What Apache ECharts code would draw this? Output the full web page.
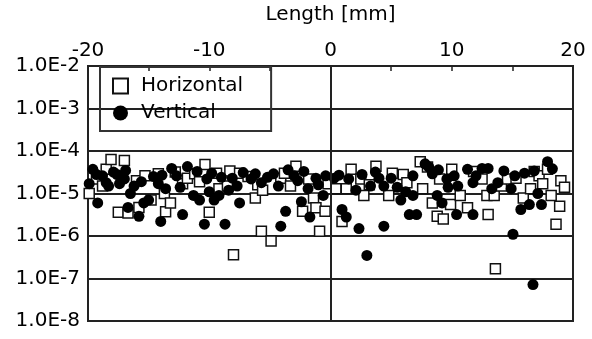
<!DOCTYPE html>
<html>
<head>
<meta charset="utf-8">
<script src="https://cdn.jsdelivr.net/npm/echarts@6/dist/echarts.min.js"></script>
<style>
  html, body { margin: 0; padding: 0; background: #fff; }
  #chart { width: 592px; height: 339px; }
</style>
</head>
<body>
<div id="chart"></div>
<script>
// [length mm, value]
const horizontal = [
  [-19.9, 1.0e-5], [-19.3, 2.2e-5], [-18.8, 1.5e-5], [-18.5, 3.7e-5], [-18.1, 6.3e-5], [-17.0, 6.0e-5],
  [-17.5, 3.6e-6], [-16.7, 3.5e-6], [-16.0, 2.0e-5], [-15.8, 4.7e-6], [-15.3, 2.6e-5], [-14.8, 7e-6],
  [-14.2, 2.9e-5], [-13.7, 1.0e-5], [-13.6, 3.7e-6], [-13.2, 6e-6], [-12.8, 3.2e-5], [-12.2, 1.7e-5],
  [-11.8, 2.3e-5], [-11.2, 2.9e-5], [-10.8, 1.9e-5], [-10.35, 4.8e-5], [-10.0, 3.6e-6], [-9.4, 3.0e-5],
  [-9.2, 1.3e-5], [-8.5, 1.5e-5], [-8.3, 3.4e-5], [-8.0, 3.6e-7], [-7.5, 3.0e-5], [-6.8, 2.5e-5],
  [-6.2, 7.8e-6], [-6.0, 1.6e-5], [-5.7, 1.3e-6], [-5.6, 1.2e-5], [-4.9, 7.6e-7], [-4.1, 2.3e-5],
  [-3.8, 3.0e-5], [-3.3, 1.5e-5], [-2.85, 4.4e-5], [-2.3, 3.8e-6], [-1.8, 2.2e-5], [-1.4, 7.8e-6],
  [-1.2, 4.6e-6], [-0.9, 1.3e-6], [-0.45, 3.8e-6], [-0.2, 1.7e-5], [0.45, 1.3e-5], [0.95, 2.2e-6],
  [1.3, 1.3e-5], [1.7, 3.7e-5], [2.5, 2.2e-5], [2.75, 9e-6], [3.2, 1.6e-5], [3.75, 4.4e-5],
  [4.8, 9e-6], [5.1, 3e-5], [5.65, 1.3e-5], [6.0, 2.8e-5], [6.3, 1.8e-5], [7.4, 5.6e-5],
  [7.6, 1.3e-5], [8.0, 4.2e-5], [8.4, 6e-6], [8.8, 2.9e-6], [9.0, 2.2e-5], [9.3, 2.5e-6],
  [9.9, 5.5e-6], [10.0, 3.7e-5], [10.7, 9e-6], [11.3, 4.6e-6], [11.8, 3.3e-5], [12.5, 2.2e-5],
  [12.9, 9e-6], [13.0, 3.2e-6], [13.5, 9e-6], [13.6, 1.7e-7], [14.1, 1.5e-5], [14.6, 2.2e-5],
  [15.3, 2.3e-5], [15.9, 7.8e-6], [16.5, 1.3e-5], [16.8, 3.3e-5], [17.2, 2.6e-5], [17.5, 1.7e-5],
  [17.9, 3.7e-5], [18.2, 9e-6], [18.6, 1.9e-6], [18.9, 5e-6], [19.0, 2.0e-5], [19.3, 1.4e-5]
];

const vertical = [
  [-19.9, 1.7e-5], [-19.6, 3.7e-5], [-19.3, 2.8e-5], [-19.2, 6e-6], [-18.8, 2.6e-5], [-18.5, 1.8e-5],
  [-18.3, 1.5e-5], [-17.9, 3.2e-5], [-17.6, 2.8e-5], [-17.4, 1.7e-5], [-17.0, 2.2e-5], [-16.9, 3.5e-5],
  [-16.7, 4.7e-6], [-16.5, 1.0e-5], [-16.2, 1.5e-5], [-15.8, 2.9e-6], [-15.6, 1.9e-5], [-15.4, 6e-6],
  [-15.0, 7e-6], [-14.6, 2.5e-5], [-14.2, 1.7e-5], [-14.0, 2.2e-6], [-13.9, 2.7e-5], [-13.6, 1.3e-5],
  [-13.1, 3.9e-5], [-12.7, 2.6e-5], [-12.4, 1.4e-5], [-12.2, 3.2e-6], [-11.8, 4.3e-5], [-11.3, 9e-6],
  [-11.0, 3.3e-5], [-10.8, 7e-6], [-10.4, 1.9e-6], [-10.2, 2.2e-5], [-10.0, 1.1e-5], [-9.8, 3.0e-5],
  [-9.6, 7e-6], [-9.2, 9e-6], [-9.0, 2.4e-5], [-8.7, 1.9e-6], [-8.4, 1.2e-5], [-8.1, 2.3e-5],
  [-7.7, 1.5e-5], [-7.5, 6e-6], [-7.2, 3.1e-5], [-6.55, 2.2e-5], [-6.2, 2.9e-5], [-5.7, 1.8e-5],
  [-5.2, 2.4e-5], [-4.7, 2.9e-5], [-4.3, 1.5e-5], [-4.1, 1.7e-6], [-3.7, 3.8e-6], [-3.5, 3.6e-5],
  [-3.0, 2.6e-5], [-2.7, 2e-5], [-2.4, 6.4e-6], [-2.2, 3.3e-5], [-1.85, 1.3e-5], [-1.7, 2.8e-6],
  [-1.2, 2.3e-5], [-1.0, 1.6e-5], [-0.6, 9e-6], [-0.4, 2.6e-5], [0.3, 2.3e-5], [0.7, 2.7e-5],
  [0.95, 4.2e-6], [1.3, 2.8e-6], [1.5, 2.2e-5], [2.1, 1.2e-5], [2.35, 1.5e-6], [2.6, 2.8e-5],
  [3.0, 3.5e-7], [3.3, 1.5e-5], [3.7, 3.2e-5], [4.0, 2.3e-5], [4.4, 1.5e-5], [4.4, 1.7e-6],
  [5.0, 2.3e-5], [5.5, 1.4e-5], [5.8, 7e-6], [6.2, 1.1e-5], [6.5, 3.2e-6], [6.8, 2.6e-5],
  [6.8, 9e-6], [7.1, 3.2e-6], [7.8, 5e-5], [8.1, 4.2e-5], [8.4, 2.9e-5], [8.8, 9e-6],
  [8.9, 3.6e-5], [9.2, 6e-6], [9.6, 2.2e-5], [9.7, 1.4e-5], [10.2, 2.6e-5], [10.4, 3.2e-6],
  [10.5, 1.5e-5], [11.3, 3.7e-5], [11.75, 1.8e-5], [11.75, 3.2e-6], [12.0, 2.6e-5], [12.5, 3.9e-5],
  [13.0, 3.9e-5], [13.3, 1.3e-5], [13.8, 1.8e-5], [14.3, 3.4e-5], [14.9, 1.3e-5], [15.05, 1.1e-6],
  [15.2, 2.6e-5], [15.7, 4.2e-6], [16.0, 3e-5], [16.4, 5.5e-6], [16.7, 7.2e-8], [16.8, 3.4e-5],
  [17.1, 1.0e-5], [17.4, 5.5e-6], [17.9, 5.6e-5], [18.3, 3.8e-5]
];

const xMin = -20, xMax = 20;
const yMin = 1e-8, yMax = 1e-2;

const font = 'DejaVu Sans';
const chart = echarts.init(document.getElementById('chart'));

chart.setOption({
  animation: false,
  textStyle: { fontFamily: font, color: '#000' },
  grid: {
    left: 88, right: 19, top: 56, bottom: 18,
    show: true, borderColor: '#222', borderWidth: 2
  },
  legend: {
    left: 100, top: 67, orient: 'vertical',
    borderColor: '#333', borderWidth: 2,
    padding: [9, 28, 8, 12], itemGap: 7,
    itemWidth: 15, itemHeight: 15,
    textStyle: { fontFamily: font, fontSize: 20, color: '#000', padding: [0, 0, 0, 8] },
    data: ['Horizontal', 'Vertical']
  },
  xAxis: {
    type: 'value', position: 'top',
    min: xMin, max: xMax, interval: 5,
    name: 'Length [mm]', nameLocation: 'middle', nameGap: 41,
    nameTextStyle: { fontFamily: font, fontSize: 20, color: '#000' },
    axisLine: { lineStyle: { color: '#222', width: 2 } },
    axisTick: { inside: true, length: 5, lineStyle: { color: '#222', width: 1.5 } },
    axisLabel: {
      fontFamily: font, fontSize: 20, color: '#000', margin: 5,
      showMinLabel: true, showMaxLabel: true,
      formatter: v => (v % 10 === 0 ? String(v) : '')
    },
    splitLine: { show: false }
  },
  yAxis: {
    type: 'log', logBase: 10, min: yMin, max: yMax,
    axisLine: { lineStyle: { color: '#222', width: 2 } },
    axisTick: { show: false },
    axisLabel: {
      fontFamily: font, fontSize: 20, color: '#000', margin: 8,
      formatter: v => '1.0E' + Math.round(Math.log10(v))
    },
    splitLine: { show: true, lineStyle: { color: '#222', width: 2 } },
    minorTick: { show: false }
  },
  series: [
    {
      name: 'Horizontal', type: 'scatter', data: horizontal,
      symbol: 'rect', symbolSize: 10,
      itemStyle: { color: '#fff', borderColor: '#111', borderWidth: 1.5, opacity: 1 },
      markLine: {
        silent: true, symbol: 'none', label: { show: false },
        lineStyle: { color: '#222', width: 2, type: 'solid' },
        data: [{ xAxis: 0 }]
      }
    },
    {
      name: 'Vertical', type: 'scatter', data: vertical,
      symbol: 'circle', symbolSize: 11,
      itemStyle: { color: '#000', opacity: 1 }
    }
  ]
});
</script>
</body>
</html>
